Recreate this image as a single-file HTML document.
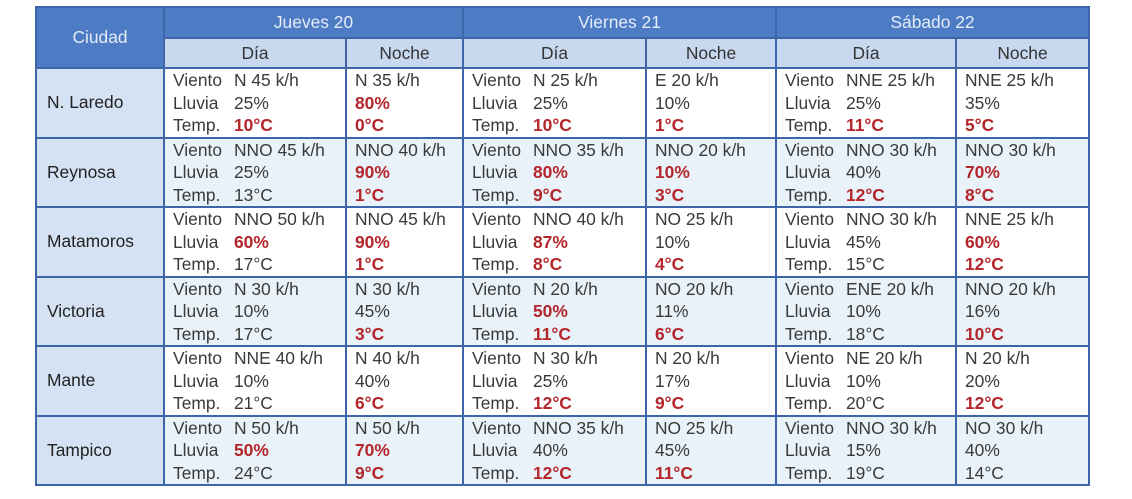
<!DOCTYPE html>
<html><head><meta charset="utf-8"><style>
body{margin:0;background:#fff;width:1132px;height:499px;overflow:hidden}
table{position:absolute;left:35px;top:6px;border-collapse:collapse;table-layout:fixed;font-family:"Liberation Sans",sans-serif;font-size:17.4px;color:#3a3a3a}
td,th{border:2px solid #3d65a8;padding:0;font-weight:normal}
th.h{background:#4d7cc4;color:#e4ecf8;height:29px}
th.s{background:#c8d8ee;color:#333;height:28px}
td.c{background:#d4e2f3;padding-left:10px;vertical-align:middle;color:#222}
td.d{vertical-align:top;padding:0 0 0 8px;line-height:22.5px;white-space:nowrap}
tr.w td.d{background:#fff}
tr.b td.d{background:#e9f2f9}
.l{display:inline-block;width:61px}
.r{color:#b3262b;font-weight:bold}
</style></head><body>
<table>
<colgroup><col style="width:128px"><col style="width:182px"><col style="width:117px"><col style="width:183px"><col style="width:130px"><col style="width:180px"><col style="width:133px"></colgroup>
<tr><th class="h" rowspan="2" style="background:#4d7cc4">Ciudad</th><th class="h" colspan="2">Jueves 20</th><th class="h" colspan="2">Viernes 21</th><th class="h" colspan="2">Sábado 22</th></tr>
<tr><th class="s">Día</th><th class="s">Noche</th><th class="s">Día</th><th class="s">Noche</th><th class="s">Día</th><th class="s">Noche</th></tr>

<tr class="w" style="height:68px"><td class="c">N. Laredo</td>
<td class="d"><span class="l">Viento</span>N 45 k/h<br><span class="l">Lluvia</span>25%<br><span class="l">Temp.</span><span class="r">10°C</span></td>
<td class="d">N 35 k/h<br><span class="r">80%</span><br><span class="r">0°C</span></td>
<td class="d"><span class="l">Viento</span>N 25 k/h<br><span class="l">Lluvia</span>25%<br><span class="l">Temp.</span><span class="r">10°C</span></td>
<td class="d">E 20 k/h<br>10%<br><span class="r">1°C</span></td>
<td class="d"><span class="l">Viento</span>NNE 25 k/h<br><span class="l">Lluvia</span>25%<br><span class="l">Temp.</span><span class="r">11°C</span></td>
<td class="d">NNE 25 k/h<br>35%<br><span class="r">5°C</span></td></tr>

<tr class="b" style="height:69px"><td class="c">Reynosa</td>
<td class="d"><span class="l">Viento</span>NNO 45 k/h<br><span class="l">Lluvia</span>25%<br><span class="l">Temp.</span>13°C</td>
<td class="d">NNO 40 k/h<br><span class="r">90%</span><br><span class="r">1°C</span></td>
<td class="d"><span class="l">Viento</span>NNO 35 k/h<br><span class="l">Lluvia</span><span class="r">80%</span><br><span class="l">Temp.</span><span class="r">9°C</span></td>
<td class="d">NNO 20 k/h<br><span class="r">10%</span><br><span class="r">3°C</span></td>
<td class="d"><span class="l">Viento</span>NNO 30 k/h<br><span class="l">Lluvia</span>40%<br><span class="l">Temp.</span><span class="r">12°C</span></td>
<td class="d">NNO 30 k/h<br><span class="r">70%</span><br><span class="r">8°C</span></td></tr>

<tr class="w" style="height:69px"><td class="c">Matamoros</td>
<td class="d"><span class="l">Viento</span>NNO 50 k/h<br><span class="l">Lluvia</span><span class="r">60%</span><br><span class="l">Temp.</span>17°C</td>
<td class="d">NNO 45 k/h<br><span class="r">90%</span><br><span class="r">1°C</span></td>
<td class="d"><span class="l">Viento</span>NNO 40 k/h<br><span class="l">Lluvia</span><span class="r">87%</span><br><span class="l">Temp.</span><span class="r">8°C</span></td>
<td class="d">NO 25 k/h<br>10%<br><span class="r">4°C</span></td>
<td class="d"><span class="l">Viento</span>NNO 30 k/h<br><span class="l">Lluvia</span>45%<br><span class="l">Temp.</span>15°C</td>
<td class="d">NNE 25 k/h<br><span class="r">60%</span><br><span class="r">12°C</span></td></tr>

<tr class="b" style="height:69px"><td class="c">Victoria</td>
<td class="d"><span class="l">Viento</span>N 30 k/h<br><span class="l">Lluvia</span>10%<br><span class="l">Temp.</span>17°C</td>
<td class="d">N 30 k/h<br>45%<br><span class="r">3°C</span></td>
<td class="d"><span class="l">Viento</span>N 20 k/h<br><span class="l">Lluvia</span><span class="r">50%</span><br><span class="l">Temp.</span><span class="r">11°C</span></td>
<td class="d">NO 20 k/h<br>11%<br><span class="r">6°C</span></td>
<td class="d"><span class="l">Viento</span>ENE 20 k/h<br><span class="l">Lluvia</span>10%<br><span class="l">Temp.</span>18°C</td>
<td class="d">NNO 20 k/h<br>16%<br><span class="r">10°C</span></td></tr>

<tr class="w" style="height:69px"><td class="c">Mante</td>
<td class="d"><span class="l">Viento</span>NNE 40 k/h<br><span class="l">Lluvia</span>10%<br><span class="l">Temp.</span>21°C</td>
<td class="d">N 40 k/h<br>40%<br><span class="r">6°C</span></td>
<td class="d"><span class="l">Viento</span>N 30 k/h<br><span class="l">Lluvia</span>25%<br><span class="l">Temp.</span><span class="r">12°C</span></td>
<td class="d">N 20 k/h<br>17%<br><span class="r">9°C</span></td>
<td class="d"><span class="l">Viento</span>NE 20 k/h<br><span class="l">Lluvia</span>10%<br><span class="l">Temp.</span>20°C</td>
<td class="d">N 20 k/h<br>20%<br><span class="r">12°C</span></td></tr>

<tr class="b" style="height:69px"><td class="c">Tampico</td>
<td class="d"><span class="l">Viento</span>N 50 k/h<br><span class="l">Lluvia</span><span class="r">50%</span><br><span class="l">Temp.</span>24°C</td>
<td class="d">N 50 k/h<br><span class="r">70%</span><br><span class="r">9°C</span></td>
<td class="d"><span class="l">Viento</span>NNO 35 k/h<br><span class="l">Lluvia</span>40%<br><span class="l">Temp.</span><span class="r">12°C</span></td>
<td class="d">NO 25 k/h<br>45%<br><span class="r">11°C</span></td>
<td class="d"><span class="l">Viento</span>NNO 30 k/h<br><span class="l">Lluvia</span>15%<br><span class="l">Temp.</span>19°C</td>
<td class="d">NO 30 k/h<br>40%<br>14°C</td></tr>
</table>
</body></html>
